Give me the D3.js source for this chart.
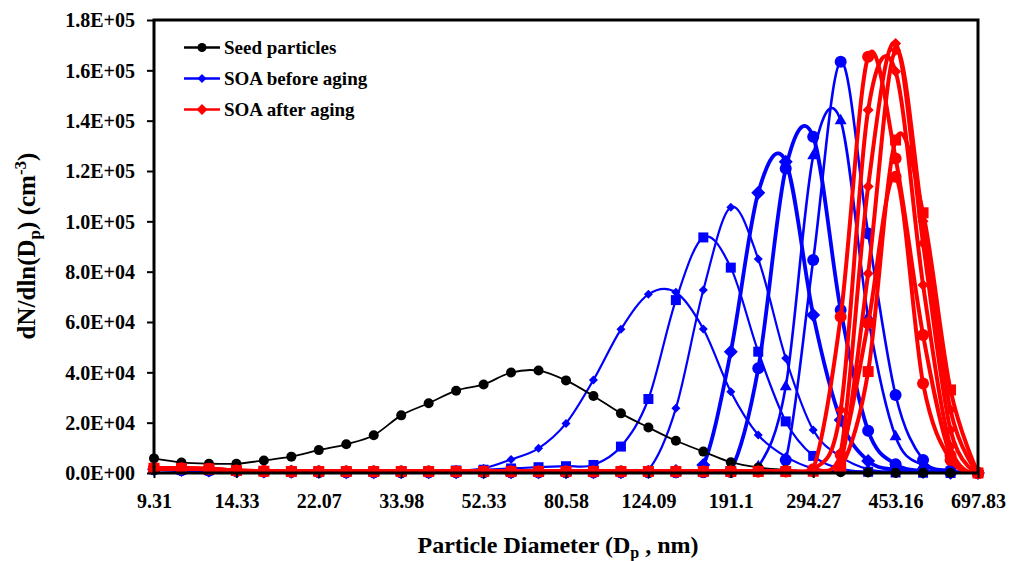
<!DOCTYPE html>
<html>
<head>
<meta charset="utf-8">
<script src="https://cdn.jsdelivr.net/npm/d3@7"></script>
<style>
  body { margin: 0; background: #fff; }
  svg { display: block; font-family: "Liberation Serif", "Times New Roman", serif; font-weight: bold; }
</style>
</head>
<body>
<svg id="chart" width="1011" height="561"></svg>
<script>
// particle diameter bins (nm)
const diameters = [9.31, 10.75, 12.41, 14.33, 16.55, 19.11, 22.07, 25.49, 29.43, 33.98, 39.24, 45.31, 52.33, 60.43, 69.78, 80.58,
  93.05, 107.46, 124.09, 143.3, 165.48, 191.1, 220.68, 254.84, 294.27, 339.82, 392.42, 453.16, 523.3, 604.3, 697.83];
const tickLabels = ["9.31", "14.33", "22.07", "33.98", "52.33", "80.58", "124.09", "191.1", "294.27", "453.16", "697.83"];
const yTicks = [0, 20000, 40000, 60000, 80000, 100000, 120000, 140000, 160000, 180000];

// seed particles
const seed = [5800, 4200, 3700, 3700, 5000, 6500, 9100, 11400, 15000, 22900, 27700, 32700, 35200, 39900, 40700, 36800,
  30600, 23700, 18100, 12800, 8500, 4300, 2200, 1200, 600, 300, 200, 100, 100, 0, 0];

// SOA before aging
const blue1 = [1500, 1300, 1100, 900, 700, 600, 500, 500, 500, 500, 700, 1000, 1900, 5400, 9800, 19700,
  37000, 57100, 71000, 71800, 57200, 32300, 15100, 6500, 1800, 600, 200, 100, 0, 0, 0];
const blue2 = [1500, 1300, 1100, 900, 800, 700, 700, 600, 600, 700, 800, 1000, 1300, 1800, 2300, 2700,
  3200, 10500, 29400, 68700, 93600, 81600, 48200, 20500, 6800, 1800, 500, 200, 100, 0, 0];
const blue3 = [1500, 1200, 1000, 800, 600, 500, 400, 400, 300, 300, 300, 300, 300, 300, 300, 400,
  500, 700, 1300, 25700, 72700, 105600, 85000, 45600, 17100, 6500, 1500, 500, 200, 0, 0];
const blue4 = [1500, 1200, 1000, 800, 600, 500, 400, 300, 300, 300, 300, 300, 300, 300, 300, 300,
  300, 300, 400, 800, 3200, 48200, 111400, 123700, 62800, 21100, 4800, 1200, 400, 100, 0];
const blue5 = [1500, 1200, 1000, 800, 600, 500, 400, 300, 300, 300, 300, 300, 300, 300, 300, 300,
  300, 300, 300, 300, 400, 1000, 41600, 121000, 133600, 64800, 16800, 3500, 800, 200, 0];
const blue6 = [1500, 1200, 1000, 800, 600, 500, 400, 300, 300, 300, 300, 300, 300, 300, 300, 300,
  300, 300, 300, 300, 300, 500, 2500, 34300, 126000, 140000, 62000, 14400, 3000, 800, 0];
const blue7 = [1500, 1200, 1000, 800, 600, 500, 400, 300, 300, 300, 300, 300, 300, 300, 300, 300,
  300, 300, 300, 300, 300, 400, 800, 5200, 84600, 163400, 95200, 31000, 5200, 1000, 0];

// SOA after aging
const red1 = [1900, 1900, 1700, 1000, 700, 600, 600, 600, 600, 600, 600, 600, 600, 600, 600, 600,
  600, 600, 600, 600, 600, 600, 600, 700, 1500, 62100, 165400, 125000, 54800, 7000, 0];
const red2 = [1900, 1800, 1600, 1000, 700, 600, 600, 600, 600, 600, 600, 600, 600, 600, 600, 600,
  600, 600, 600, 600, 600, 600, 600, 700, 1200, 25000, 144200, 159500, 74700, 10500, 0];
const red3 = [1800, 1800, 1600, 900, 700, 600, 600, 600, 600, 600, 600, 600, 600, 600, 600, 600,
  600, 600, 600, 600, 600, 600, 600, 600, 900, 8000, 113800, 170700, 91300, 17100, 0];
const red4 = [1800, 1700, 1500, 900, 700, 600, 600, 600, 600, 600, 600, 600, 600, 600, 600, 600,
  600, 600, 600, 600, 600, 600, 600, 600, 800, 4000, 79300, 168000, 100000, 25000, 0];
const red5 = [1900, 1800, 1600, 1000, 700, 600, 600, 600, 600, 600, 600, 600, 600, 600, 600, 600,
  600, 600, 600, 600, 600, 600, 600, 600, 700, 2000, 40300, 132300, 103400, 33000, 0];
const red6 = [1800, 1700, 1500, 900, 700, 600, 600, 600, 600, 600, 600, 600, 600, 600, 600, 600,
  600, 600, 600, 600, 600, 600, 600, 600, 900, 7200, 59500, 117700, 35600, 5200, 0];

const legendNames = ["Seed particles", "SOA before aging", "SOA after aging"];

// drawing styles (drawing order: blue, black, red)
const series = [
  { values: blue1, color: "#0000ff", width: 2.2, marker: "diamond", size: 9 },
  { values: blue2, color: "#0000ff", width: 2.2, marker: "square", size: 10 },
  { values: blue3, color: "#0000ff", width: 2.2, marker: "diamond", size: 9 },
  { values: blue4, color: "#0000ff", width: 3.8, marker: "diamond", size: 14 },
  { values: blue5, color: "#0000ff", width: 3.8, marker: "circle", size: 12 },
  { values: blue6, color: "#0000ff", width: 2.6, marker: "triangle", size: 12 },
  { values: blue7, color: "#0000ff", width: 2.6, marker: "circle", size: 12 },
  { values: seed, color: "#000000", width: 1.8, marker: "circle", size: 10 },
  { values: red1, color: "#ff0000", width: 4, marker: "circle", size: 12 },
  { values: red2, color: "#ff0000", width: 4, marker: "diamond", size: 11 },
  { values: red3, color: "#ff0000", width: 4, marker: "diamond", size: 11 },
  { values: red4, color: "#ff0000", width: 4, marker: "diamond", size: 11 },
  { values: red5, color: "#ff0000", width: 4, marker: "square", size: 11 },
  { values: red6, color: "#ff0000", width: 4, marker: "circle", size: 12 }
];

const svg = d3.select("#chart");
const plotLeft = 154, plotRight = 978, plotTop = 20, plotBottom = 473;

const x = d3.scalePoint().domain(diameters).range([plotLeft, plotRight]);
const y = d3.scaleLinear().domain([0, 180000]).range([plotBottom, plotTop]);

function sci(d) {
  if (d === 0) return "0.0E+00";
  const e = Math.floor(Math.log10(d) + 1e-9);
  const m = d / Math.pow(10, e);
  return m.toFixed(1) + "E+" + String(e).padStart(2, "0");
}

function markerPath(type, size) {
  if (type === "circle") return d3.symbol(d3.symbolCircle, Math.PI * size * size / 4)();
  if (type === "square") return d3.symbol(d3.symbolSquare, size * size)();
  if (type === "diamond") return d3.symbol(d3.symbolSquare, size * size / 2)();
  return d3.symbol(d3.symbolTriangle, size * size * Math.sqrt(3) / 4)();
}

// keep smoothed lines from dipping under the x axis
svg.append("clipPath").attr("id", "plot-clip")
  .append("rect")
  .attr("x", 0).attr("y", 0)
  .attr("width", 1011).attr("height", plotBottom + 1);

// series
const line = d3.line()
  .x((d, i) => x(diameters[i]))
  .y(d => y(d))
  .curve(d3.curveCatmullRom.alpha(0));

series.forEach(s => {
  const g = svg.append("g");
  g.append("path")
    .attr("d", line(s.values))
    .attr("clip-path", "url(#plot-clip)")
    .attr("fill", "none")
    .attr("stroke", s.color)
    .attr("stroke-width", s.width)
    .attr("stroke-linejoin", "round");
  g.selectAll("path.m")
    .data(s.values)
    .join("path")
    .attr("class", "m")
    .attr("d", markerPath(s.marker, s.size))
    .attr("fill", s.color)
    .attr("transform", (d, i) => `translate(${x(diameters[i])},${y(d)})` + (s.marker === "diamond" ? " rotate(45)" : ""));
});

// frame
svg.append("rect")
  .attr("x", plotLeft).attr("y", plotTop)
  .attr("width", plotRight - plotLeft).attr("height", plotBottom - plotTop)
  .attr("fill", "none").attr("stroke", "#000").attr("stroke-width", 3);

// y axis
const yAxis = svg.append("g")
  .attr("transform", `translate(${plotLeft},0)`)
  .call(d3.axisLeft(y).tickValues(yTicks).tickSize(7).tickPadding(12).tickFormat(sci));
yAxis.select(".domain").remove();
yAxis.selectAll("line").attr("stroke-width", 2);
yAxis.selectAll("text")
  .attr("font-size", 20).attr("font-family", "Liberation Serif, serif").attr("font-weight", "bold")
  .attr("fill", "#000").attr("dy", "0.34em");

// x axis
const xTickValues = diameters.filter((d, i) => i % 3 === 0);
const xAxis = svg.append("g")
  .attr("transform", `translate(0,${plotBottom})`)
  .call(d3.axisBottom(x).tickValues(xTickValues).tickSize(5).tickPadding(16)
    .tickFormat((d, i) => tickLabels[i]));
xAxis.select(".domain").remove();
xAxis.selectAll("line").attr("stroke-width", 2);
xAxis.selectAll("text")
  .attr("font-size", 20).attr("font-family", "Liberation Serif, serif").attr("font-weight", "bold")
  .attr("fill", "#000");

// axis titles
const xt = svg.append("text")
  .attr("x", 558).attr("y", 553)
  .attr("text-anchor", "middle").attr("font-size", 24);
xt.append("tspan").text("Particle Diameter (D");
xt.append("tspan").attr("font-size", 16).attr("dy", 5).text("p");
xt.append("tspan").attr("dy", -5).text(" , nm)");

const yt = svg.append("text")
  .attr("transform", "translate(35,246) rotate(-90)")
  .attr("text-anchor", "middle").attr("font-size", 25);
yt.append("tspan").text("dN/dln(D");
yt.append("tspan").attr("font-size", 17).attr("dy", 5).text("p");
yt.append("tspan").attr("dy", -5).text(") (cm");
yt.append("tspan").attr("font-size", 17).attr("dy", -9).text("-3");
yt.append("tspan").attr("dy", 9).text(")");

// legend
const legendStyle = [
  { color: "#000000", marker: "circle", size: 9 },
  { color: "#0000ff", marker: "diamond", size: 9 },
  { color: "#ff0000", marker: "diamond", size: 11 }
];
const legend = svg.append("g");
legendNames.forEach((name, i) => {
  const ly = 47.5 + i * 31;
  const st = legendStyle[i];
  legend.append("line")
    .attr("x1", 184).attr("x2", 220).attr("y1", ly).attr("y2", ly)
    .attr("stroke", st.color).attr("stroke-width", 2.5);
  legend.append("path")
    .attr("d", markerPath(st.marker, st.size))
    .attr("fill", st.color)
    .attr("transform", `translate(202,${ly})` + (st.marker === "diamond" ? " rotate(45)" : ""));
  legend.append("text")
    .attr("x", 224).attr("y", ly + 6.5)
    .attr("font-size", 19)
    .text(name);
});
</script>
</body>
</html>
